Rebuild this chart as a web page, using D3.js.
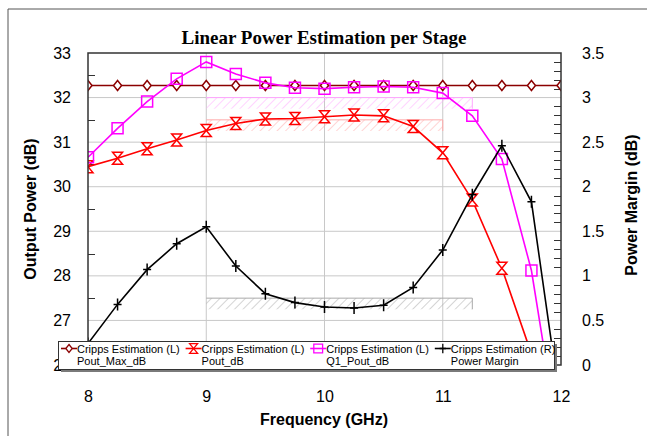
<!DOCTYPE html>
<html><head><meta charset="utf-8">
<script src="https://cdn.jsdelivr.net/npm/d3@7"></script>
<style>body{margin:0;background:#fff}svg{display:block}</style>
</head><body>
<script>
// ---- data ----
const freqs = [8, 8.25, 8.5, 8.75, 9, 9.25, 9.5, 9.75, 10, 10.25, 10.5, 10.75, 11, 11.25, 11.5, 11.75, 12];
const poutMaxDb = [32.27, 32.27, 32.27, 32.27, 32.27, 32.27, 32.27, 32.27, 32.27, 32.27, 32.27, 32.27, 32.27, 32.27, 32.27, 32.27, 32.27];
const poutDb = [30.45, 30.64, 30.85, 31.05, 31.26, 31.42, 31.52, 31.53, 31.57, 31.61, 31.59, 31.35, 30.76, 29.70, 28.17, 26.25, 24.6];
const q1PoutDb = [30.66, 31.31, 31.91, 32.42, 32.80, 32.53, 32.33, 32.22, 32.20, 32.23, 32.25, 32.23, 32.10, 31.59, 30.62, 28.12, 24.0];
const powerMargin = [0.24, 0.68, 1.07, 1.36, 1.55, 1.11, 0.80, 0.70, 0.65, 0.64, 0.67, 0.87, 1.29, 1.91, 2.46, 1.83, -0.5];
const xTicks = [8, 9, 10, 11, 12];
const yLeftTicks = [26, 27, 28, 29, 30, 31, 32, 33];
const yRightTicks = [0, 0.5, 1, 1.5, 2, 2.5, 3, 3.5];
const bandStart = [9, 9, 9];
const bandEnd = [11.25, 11.0, 11.25];
const bandLow = [31.75, 31.25, 0.625];
const bandHigh = [32.0, 31.5, 0.75];
const bandAxis = ["L", "L", "R"];
const legendTitles = ["Cripps Estimation (L)", "Cripps Estimation (L)", "Cripps Estimation (L)", "Cripps Estimation (R)"];
const legendNames = ["Pout_Max_dB", "Pout_dB", "Q1_Pout_dB", "Power Margin"];

// ---- layout ----
const W = 647, H = 436;
const P = {l: 88, r: 561, t: 53, b: 365};
const x = d3.scaleLinear([8, 12], [P.l, P.r]);
const yL = d3.scaleLinear([26, 33], [P.b, P.t]);
const yR = d3.scaleLinear([0, 3.5], [P.b, P.t]);

const svg = d3.select("body").append("svg").attr("width", W).attr("height", H);
const defs = svg.append("defs");
defs.append("clipPath").attr("id", "plotclip").append("rect")
  .attr("x", P.l).attr("y", P.t).attr("width", P.r - P.l).attr("height", P.b - P.t);
const hatchColors = ["#ffa8ff", "#ffaaaa", "#aaaaaa"];
hatchColors.forEach((c, i) => {
  const p = defs.append("pattern").attr("id", "hatch" + i).attr("patternUnits", "userSpaceOnUse")
    .attr("width", 6).attr("height", 6).attr("patternTransform", "rotate(45)");
  p.append("line").attr("x1", 0).attr("y1", 0).attr("x2", 0).attr("y2", 6)
    .attr("stroke", c).attr("stroke-width", 1);
});

// outer frame
svg.append("path").attr("d", `M8,${H} V9 H${W}`).attr("fill", "none").attr("stroke", "#555").attr("stroke-width", 1);

// title
svg.append("text").attr("x", 324).attr("y", 44).attr("text-anchor", "middle")
  .attr("font-family", "Liberation Serif, Times New Roman, serif").attr("font-weight", "bold")
  .attr("font-size", 19).text("Linear Power Estimation per Stage");

// gridlines
const grid = svg.append("g").attr("stroke", "#c8c8c8").attr("stroke-width", 1);
[9, 10, 11].forEach(v => grid.append("line").attr("x1", x(v)).attr("x2", x(v)).attr("y1", P.t).attr("y2", P.b));
[27, 28, 29, 30, 31, 32].forEach(v => grid.append("line").attr("x1", P.l).attr("x2", P.r).attr("y1", yL(v)).attr("y2", yL(v)));

// hatched bands
bandStart.forEach((s, i) => {
  const ys = bandAxis[i] === "L" ? yL : yR;
  const x0 = x(s), x1 = x(bandEnd[i]), yt = ys(bandHigh[i]), yb = ys(bandLow[i]);
  svg.append("rect").attr("x", x0).attr("y", yt).attr("width", x1 - x0).attr("height", yb - yt)
    .attr("fill", `url(#hatch${i})`);
  svg.append("path").attr("d", `M${x0},${yt} H${x1} V${yb}`).attr("fill", "none")
    .attr("stroke", hatchColors[i]).attr("stroke-width", 1);
});

// axis ticks (minor)
const tk = svg.append("g").attr("stroke", "#333").attr("stroke-width", 1);
d3.range(26.5, 33, 1).forEach(v => tk.append("line").attr("x1", P.l).attr("x2", P.l + 7).attr("y1", Math.round(yL(v)) + 0.5).attr("y2", Math.round(yL(v)) + 0.5));
d3.range(1, 35).filter(k => k % 5 !== 0).forEach(k => {
  const yy = Math.round(yR(k / 10)) + 0.5;
  tk.append("line").attr("x1", P.r - 7).attr("x2", P.r).attr("y1", yy).attr("y2", yy);
});

// series
const plot = svg.append("g").attr("clip-path", "url(#plotclip)");
const series = [
  {vals: poutMaxDb, ys: yL, color: "#8b0000", sym: "diamond"},
  {vals: poutDb, ys: yL, color: "#ff0000", sym: "hourglass"},
  {vals: q1PoutDb, ys: yL, color: "#ff00ff", sym: "square"},
  {vals: powerMargin, ys: yR, color: "#000000", sym: "plus"}
];
const symPath = {
  diamond: "M0,-5 L4,0 L0,5 L-4,0 Z",
  hourglass: "M-5,-6 H5 L-5,6 H5 Z",
  square: "M-5.5,-5.5 H5.5 V5.5 H-5.5 Z",
  plus: "M0,-6 V6 M-4,0 H4"
};
const symFill = {diamond: "#fff", hourglass: "#fff", square: "none", plus: "none"};
series.forEach(s => {
  const line = d3.line().x((d, i) => x(freqs[i])).y(d => s.ys(d));
  plot.append("path").datum(s.vals).attr("d", line).attr("fill", "none")
    .attr("stroke", s.color).attr("stroke-width", 1.6);
  plot.selectAll(null).data(s.vals).join("path")
    .attr("transform", (d, i) => `translate(${x(freqs[i])},${s.ys(d)})`)
    .attr("d", symPath[s.sym]).attr("fill", symFill[s.sym])
    .attr("stroke", s.color).attr("stroke-width", 1.5);
});

// plot border
svg.append("rect").attr("x", P.l).attr("y", P.t).attr("width", P.r - P.l).attr("height", P.b - P.t)
  .attr("fill", "none").attr("stroke", "#333").attr("stroke-width", 1.5);

// tick labels via axes
const font = "Liberation Sans, Arial, sans-serif";
const ax = svg.append("g").attr("transform", `translate(0,${P.b})`)
  .call(d3.axisBottom(x).tickValues(xTicks).tickSize(0).tickPadding(26).tickFormat(d3.format("d")));
const al = svg.append("g").attr("transform", `translate(${P.l},0)`)
  .call(d3.axisLeft(yL).tickValues(yLeftTicks).tickSize(0).tickPadding(17).tickFormat(d3.format("d")));
const ar = svg.append("g").attr("transform", `translate(${P.r},0)`)
  .call(d3.axisRight(yR).tickValues(yRightTicks).tickSize(0).tickPadding(21).tickFormat(d => d3.format("")(d)));
[ax, al, ar].forEach(g => {
  g.select(".domain").remove();
  g.selectAll("text").attr("font-family", font).attr("font-size", 16).attr("fill", "#000");
});

// axis titles
svg.append("text").attr("x", 324).attr("y", 425).attr("text-anchor", "middle")
  .attr("font-family", font).attr("font-weight", "bold").attr("font-size", 16).text("Frequency (GHz)");
svg.append("text").attr("transform", "translate(36,209) rotate(-90)").attr("text-anchor", "middle")
  .attr("font-family", font).attr("font-weight", "bold").attr("font-size", 16).text("Output Power (dB)");
svg.append("text").attr("transform", "translate(637,205) rotate(-90)").attr("text-anchor", "middle")
  .attr("font-family", font).attr("font-weight", "bold").attr("font-size", 16).text("Power Margin (dB)");

// legend
const L = {x: 58, y: 341, w: 496, h: 28};
svg.append("rect").attr("x", L.x + 3).attr("y", L.y + 3).attr("width", L.w).attr("height", L.h).attr("fill", "#7a7a7a");
svg.append("rect").attr("x", L.x + 0.5).attr("y", L.y + 0.5).attr("width", L.w).attr("height", L.h)
  .attr("fill", "#fff").attr("stroke", "#333").attr("stroke-width", 1);
series.forEach((s, i) => {
  const ex = 60 + i * 124.6;
  const g = svg.append("g");
  g.append("line").attr("x1", ex + 1).attr("x2", ex + 17).attr("y1", 348.5).attr("y2", 348.5)
    .attr("stroke", s.color).attr("stroke-width", 1.6);
  g.append("path").attr("transform", `translate(${ex + 9},348.5) scale(0.8)`).attr("d", symPath[s.sym])
    .attr("fill", symFill[s.sym]).attr("stroke", s.color).attr("stroke-width", 1.6);
  g.append("text").attr("x", ex + 17).attr("y", 353).attr("font-family", font).attr("font-size", 11)
    .text(legendTitles[i]);
  g.append("text").attr("x", ex + 17).attr("y", 365).attr("font-family", font).attr("font-size", 11)
    .text(legendNames[i]);
});
</script>
</body></html>
